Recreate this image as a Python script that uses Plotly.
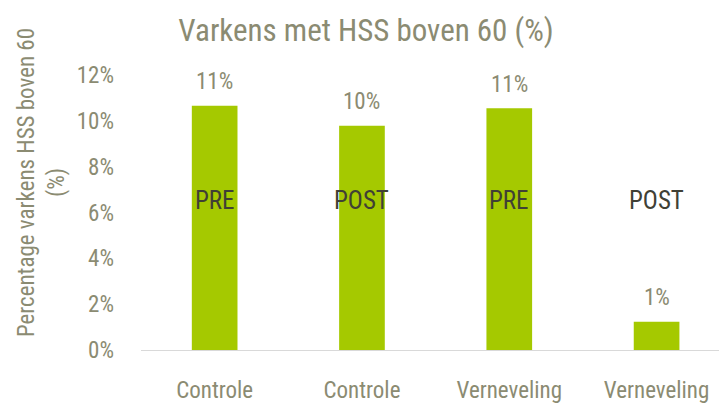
import plotly.graph_objects as go

categories = ["Controle", "Controle", "Verneveling", "Verneveling"]
phases = ["PRE", "POST", "PRE", "POST"]
values = [10.66, 9.79, 10.55, 1.23]
value_labels = ["11%", "10%", "11%", "1%"]
y_ticks = [0, 2, 4, 6, 8, 10, 12]
y_tick_labels = ["0%", "2%", "4%", "6%", "8%", "10%", "12%"]

FONT = "Roboto Condensed"
GRAY = "#8b8b72"
DARK = "#404035"
GREEN = "#a5c900"
PHASE_LEVEL = 6.54
W = 400

x = list(range(len(categories)))

fig = go.Figure()
fig.add_trace(go.Bar(x=x, y=values, width=0.31, marker=dict(color=GREEN, line=dict(width=0)),
                     hoverinfo="skip"))

for xi, v, lab in zip(x, values, value_labels):
    fig.add_annotation(x=xi, y=v, text=lab, showarrow=False, yshift=24,
                       font=dict(family=FONT, size=23, color=GRAY, weight=W))
for xi, ph in zip(x, phases):
    fig.add_annotation(x=xi, y=PHASE_LEVEL, text=ph, showarrow=False,
                       font=dict(family=FONT, size=25, color=DARK, weight=W))

fig.add_annotation(xref="paper", yref="paper", x=-0.1706, y=0.607, xanchor="center", yanchor="middle",
                   text="Percentage varkens HSS boven 60<br>(%)", textangle=-90, showarrow=False,
                   font=dict(family=FONT, size=23, color=GRAY, weight=W))

fig.update_layout(
    width=719, height=397,
    margin=dict(l=133, r=0, t=67, b=55),
    paper_bgcolor="white", plot_bgcolor="white",
    showlegend=False,
    title=dict(text="Varkens met HSS boven 60 (%)", x=0.498, xanchor="center", y=0.9446, yanchor="middle",
               font=dict(family=FONT, size=31, color=GRAY, weight=W)),
    xaxis=dict(tickvals=x, ticktext=categories, range=[-0.5, 3.478],
               showline=True, linecolor="#d9d9d9", linewidth=1, showgrid=False, zeroline=False,
               ticks="", ticklabelstandoff=19,
               tickfont=dict(family=FONT, size=23, color=GRAY, weight=W)),
    yaxis=dict(tickvals=y_ticks, ticktext=y_tick_labels, range=[0, 12],
               showgrid=False, zeroline=False, showline=False, ticks="", ticklabelstandoff=26,
               tickfont=dict(family=FONT, size=23, color=GRAY, weight=W)),
)

fig.write_html("out.html")
